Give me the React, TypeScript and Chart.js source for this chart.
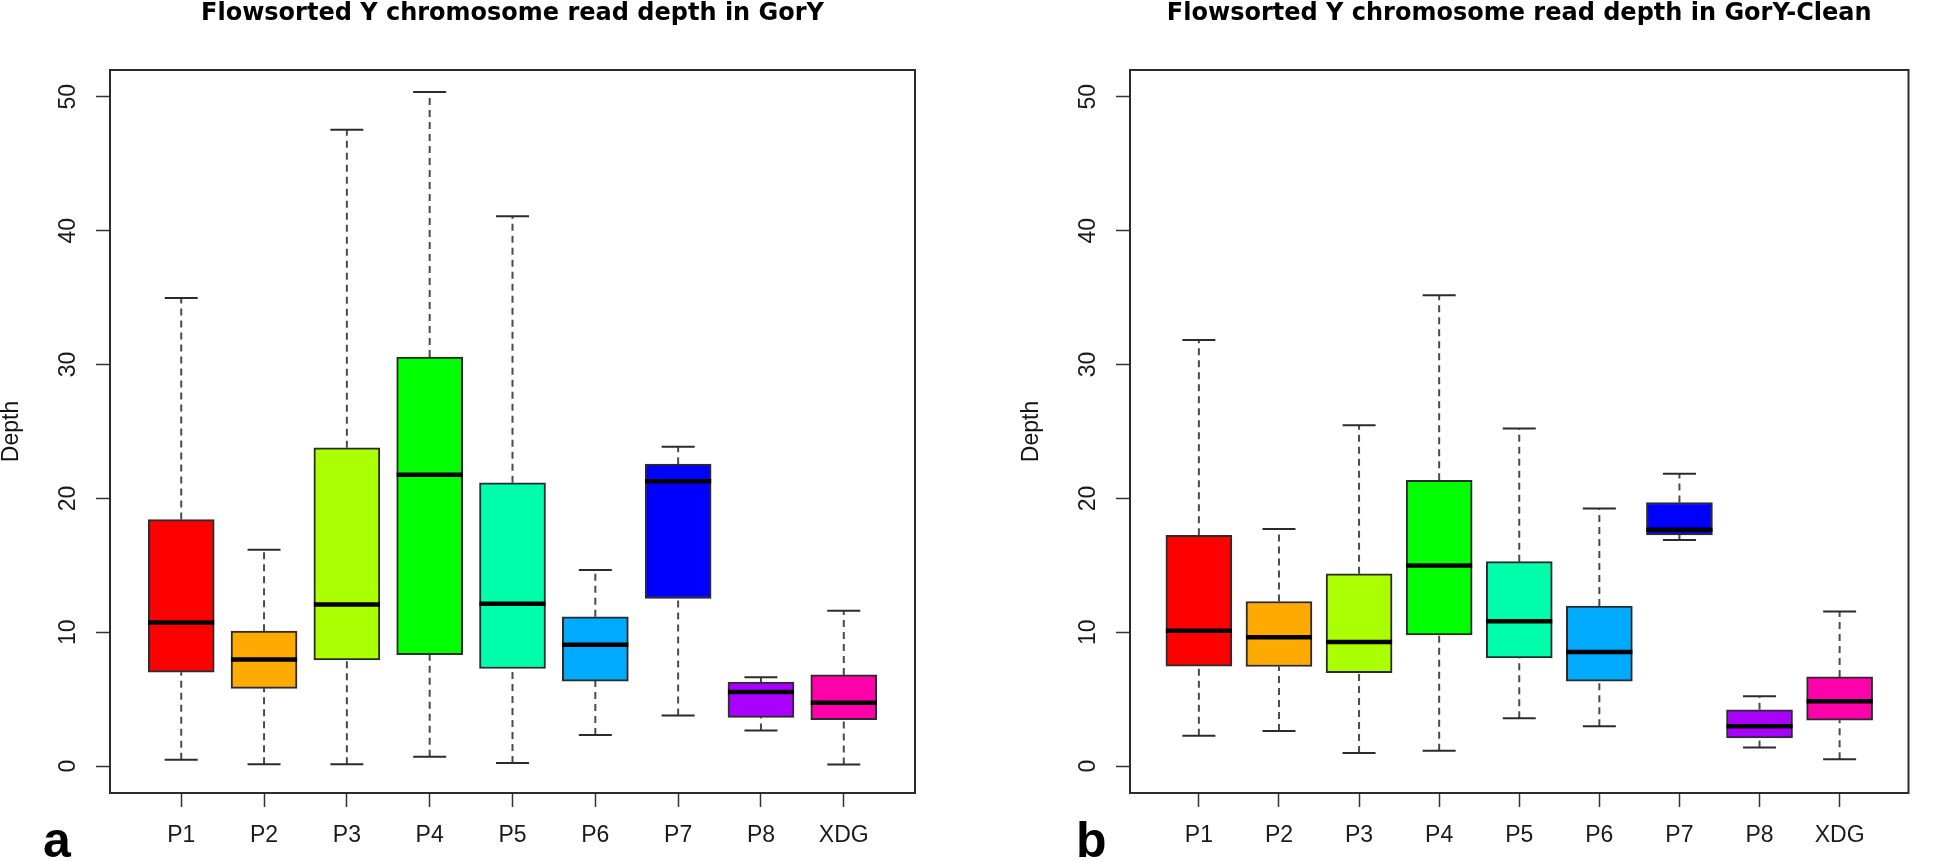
import React, { useEffect, useRef } from 'react';
import { Chart, registerables } from 'chart.js';

Chart.register(...registerables);

// ---------- data ----------
const categories = ['P1', 'P2', 'P3', 'P4', 'P5', 'P6', 'P7', 'P8', 'XDG'];
const boxColors = ['#FF0000', '#FFAA00', '#AAFF00', '#00FF00', '#00FFAA', '#00AAFF', '#0000FF', '#AA00FF', '#FF00AA'];
const yTicks = [0, 10, 20, 30, 40, 50];

// panel a: GorY
const goryMin = [0.49, 0.14, 0.14, 0.71, 0.25, 2.34, 3.78, 2.66, 0.12];
const goryQ1 = [7.02, 5.82, 7.94, 8.33, 7.3, 6.36, 12.53, 3.65, 3.47];
const goryMedian = [10.73, 7.97, 12.07, 21.77, 12.14, 9.08, 21.29, 5.55, 4.74];
const goryQ3 = [18.42, 10.09, 23.78, 30.56, 21.17, 11.16, 22.56, 6.29, 6.82];
const goryMax = [34.97, 16.16, 47.53, 50.35, 41.07, 14.65, 23.86, 6.64, 11.62];

// panel b: GorY-Clean
const cleanMin = [2.28, 2.64, 0.98, 1.16, 3.58, 2.98, 16.89, 1.4, 0.53];
const cleanQ1 = [7.48, 7.45, 6.99, 9.8, 8.08, 6.36, 17.28, 2.11, 3.44];
const cleanMedian = [10.12, 9.63, 9.28, 15.0, 10.82, 8.53, 17.66, 2.98, 4.85];
const cleanQ3 = [17.25, 12.3, 14.37, 21.36, 15.28, 11.97, 19.7, 4.21, 6.67];
const cleanMax = [31.83, 17.71, 25.47, 35.17, 25.23, 19.24, 21.84, 5.23, 11.55];

const titleA = 'Flowsorted Y chromosome read depth in GorY';
const titleB = 'Flowsorted Y chromosome read depth in GorY-Clean';

// ---------- plugins ----------
const framePlugin = {
  id: 'frame',
  afterDraw(chart: any) {
    const { ctx, chartArea: a } = chart;
    ctx.save();
    ctx.strokeStyle = '#2b2b2b';
    ctx.lineWidth = 2;
    ctx.strokeRect(a.left, a.top, a.right - a.left, a.bottom - a.top);
    ctx.restore();
  },
};

const panelLabelPlugin = {
  id: 'panelLabel',
  afterDraw(chart: any, _args: any, opts: any) {
    const { ctx } = chart;
    ctx.save();
    ctx.fillStyle = '#000';
    ctx.font = 'bold 50px "Liberation Sans", Arial, sans-serif';
    ctx.textBaseline = 'alphabetic';
    ctx.textAlign = 'left';
    ctx.fillText(opts.text, opts.x, opts.y);
    ctx.restore();
  },
};

function buildConfig(
  title: string,
  mins: number[],
  q1s: number[],
  meds: number[],
  q3s: number[],
  maxs: number[],
  panel: { text: string; x: number; y: number },
  padRight: number
): any {
  const pos = categories.map((_, i) => i + 1);
  const whiskers: any[] = [];
  pos.forEach((x, i) => {
    whiskers.push(
      { x, y: mins[i] },
      { x, y: q1s[i] },
      { x, y: null },
      { x, y: q3s[i] },
      { x, y: maxs[i] },
      { x, y: null }
    );
  });
  const caps: any[] = [];
  pos.forEach((x, i) => {
    caps.push({ x, y: mins[i] }, { x, y: maxs[i] });
  });

  return {
    type: 'bar',
    data: {
      datasets: [
        {
          type: 'line',
          label: 'whiskers',
          data: whiskers,
          borderColor: '#4a4a4a',
          borderWidth: 2,
          borderDash: [7, 5],
          pointRadius: 0,
          spanGaps: false,
          fill: false,
          tension: 0,
          order: 4,
        },
        {
          type: 'scatter',
          label: 'caps',
          data: caps,
          pointStyle: 'line',
          pointRadius: 16.5,
          pointBorderWidth: 2,
          pointBorderColor: '#2b2b2b',
          borderColor: '#2b2b2b',
          order: 3,
        },
        {
          type: 'bar',
          label: 'boxes',
          data: pos.map((x, i) => ({ x, y: [q1s[i], q3s[i]] })),
          backgroundColor: boxColors,
          borderColor: '#2b2b2b',
          borderWidth: 2,
          borderSkipped: false,
          barThickness: 66,
          order: 2,
        },
        {
          type: 'scatter',
          label: 'medians',
          data: pos.map((x, i) => ({ x, y: meds[i] })),
          pointStyle: 'line',
          pointRadius: 33,
          pointBorderWidth: 4.5,
          pointBorderColor: '#000',
          borderColor: '#000',
          order: 1,
        },
      ],
    },
    options: {
      responsive: false,
      animation: false,
      devicePixelRatio: 1,
      layout: { padding: { left: 0, right: padRight, top: 0, bottom: 0 } },
      plugins: {
        legend: { display: false },
        tooltip: { enabled: false },
        title: {
          display: true,
          text: title,
          fullSize: false,
          color: '#000',
          font: { family: '"DejaVu Sans", sans-serif', weight: 'bold', size: 24, lineHeight: 1 },
          padding: { top: 1.5, bottom: 44.5 },
        },
        panelLabel: panel,
      },
      scales: {
        x: {
          type: 'linear',
          min: 0.14,
          max: 9.86,
          offset: false,
          afterBuildTicks: (scale: any) => {
            scale.ticks = categories.map((_, i) => ({ value: i + 1 }));
          },
          afterFit: (scale: any) => {
            scale.height = 68;
          },
          grid: {
            display: true,
            offset: false,
            drawOnChartArea: false,
            drawTicks: true,
            tickLength: 14,
            tickColor: '#333',
            tickWidth: 1.5,
          },
          border: { display: false },
          ticks: {
            autoSkip: false,
            maxRotation: 0,
            minRotation: 0,
            padding: 15,
            color: '#1a1a1a',
            font: { family: '"Liberation Sans", Arial, sans-serif', size: 23 },
            callback: (_v: any, index: number) => categories[index],
          },
        },
        y: {
          type: 'linear',
          min: -2,
          max: 52,
          afterBuildTicks: (scale: any) => {
            scale.ticks = yTicks.map((v) => ({ value: v }));
          },
          afterFit: (scale: any) => {
            scale.width = 110;
          },
          grid: {
            display: true,
            drawOnChartArea: false,
            drawTicks: true,
            tickLength: 14,
            tickColor: '#333',
            tickWidth: 1.5,
          },
          border: { display: false },
          ticks: {
            autoSkip: false,
            minRotation: 90,
            maxRotation: 90,
            crossAlign: 'center',
            padding: 15,
            color: '#1a1a1a',
            font: { family: '"Liberation Sans", Arial, sans-serif', size: 23 },
          },
          title: {
            display: true,
            text: 'Depth',
            color: '#111',
            font: { family: '"Liberation Sans", Arial, sans-serif', size: 23, lineHeight: 1 },
            padding: { top: 0, bottom: 0 },
          },
        },
      },
    },
    plugins: [framePlugin, panelLabelPlugin],
  };
}

function BoxPanel({ make, left, width }: { make: () => any; left: number; width: number }) {
  const ref = useRef<HTMLCanvasElement>(null);
  useEffect(() => {
    if (!ref.current) return;
    const chart = new Chart(ref.current, make());
    return () => chart.destroy();
  }, []);
  return (
    <canvas
      ref={ref}
      width={width}
      height={861}
      style={{ position: 'absolute', left, top: 0, width, height: 861 }}
    />
  );
}

export default function App() {
  useEffect(() => {
    document.body.style.margin = '0';
  }, []);
  return (
    <div style={{ position: 'absolute', left: 0, top: 0, width: 1946, height: 861, background: '#fff', overflow: 'hidden' }}>
      <BoxPanel
        left={0}
        width={973}
        make={() =>
          buildConfig(titleA, goryMin, goryQ1, goryMedian, goryQ3, goryMax, { text: 'a', x: 43, y: 857 }, 58)
        }
      />
      <BoxPanel
        left={1020}
        width={926}
        make={() =>
          buildConfig(titleB, cleanMin, cleanQ1, cleanMedian, cleanQ3, cleanMax, { text: 'b', x: 56, y: 857 }, 4)
        }
      />
    </div>
  );
}
